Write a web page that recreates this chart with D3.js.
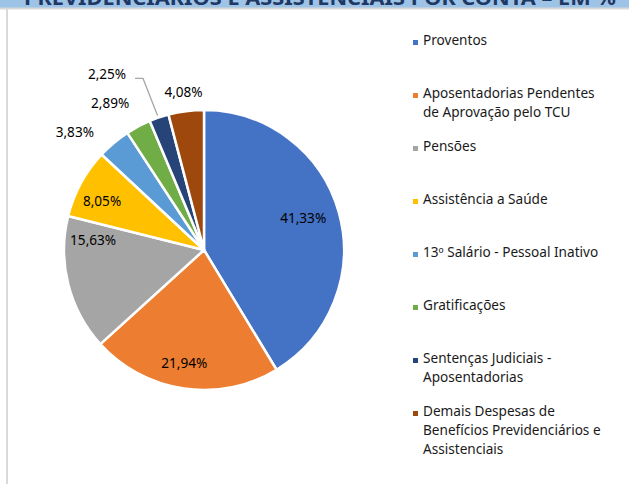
<!DOCTYPE html>
<html>
<head>
<meta charset="utf-8">
<script src="https://cdn.jsdelivr.net/npm/d3@7/dist/d3.min.js"></script>
<style>
  html, body { margin: 0; padding: 0; background: #fff; }
  svg { display: block; }
  text { font-family: "Noto Sans", "DejaVu Sans", sans-serif; }
</style>
</head>
<body>
<svg id="chart" width="629" height="484"></svg>
<script>
// ---- data ----
const categories = [
  "Proventos",
  "Aposentadorias Pendentes de Aprovação pelo TCU",
  "Pensões",
  "Assistência a Saúde",
  "13º Salário - Pessoal Inativo",
  "Gratificações",
  "Sentenças Judiciais - Aposentadorias",
  "Demais Despesas de Benefícios Previdenciários e Assistenciais"
];
const values = [41.33, 21.94, 15.63, 8.05, 3.83, 2.89, 2.25, 4.08];
const legendLines = [
  ["Proventos"],
  ["Aposentadorias Pendentes", "de Aprovação pelo TCU"],
  ["Pensões"],
  ["Assistência a Saúde"],
  ["13º Salário - Pessoal Inativo"],
  ["Gratificações"],
  ["Sentenças Judiciais -", "Aposentadorias"],
  ["Demais Despesas de", "Benefícios Previdenciários e", "Assistenciais"]
];
const colors = ["#4472C4", "#ED7D31", "#A5A5A5", "#FFC000", "#5B9BD5", "#70AD47", "#264478", "#9E480E"];
const title = "PREVIDENCIÁRIOS E ASSISTENCIAIS POR CONTA – EM %";

// label placement tweaks (pixels, relative to the default centroid)
const labelNudge = [[-6, -3], [-4, 4], [-5, -37], [-6, 3], [-21, 10], [-15, 1], [0, 0], [1, 8]];

// ---- drawing ----
const svg = d3.select("#chart");
const W = 629, H = 484;

// cut-off title band
svg.append("rect").attr("x", 0).attr("y", 0).attr("width", W).attr("height", 8).attr("fill", "#9DC3E6");
svg.append("text").attr("x", 24).attr("y", 5)
  .attr("font-size", 20).attr("font-weight", "bold").attr("fill", "#1F3864")
  .attr("textLength", 592).attr("lengthAdjust", "spacingAndGlyphs")
  .text(title);
svg.append("rect").attr("x", 0).attr("y", 7.5).attr("width", W).attr("height", 2).attr("fill", "#D9D9D9");
svg.append("rect").attr("x", 6).attr("y", 8).attr("width", 2).attr("height", H - 8).attr("fill", "#D9D9D9");

const cx = 204, cy = 250, r = 140;
const fmt = v => d3.format(".2f")(v).replace(".", ",") + "%";

const pie = d3.pie().sort(null).value(d => d)(values);
const arc = d3.arc().innerRadius(0).outerRadius(r);
const g = svg.append("g").attr("transform", `translate(${cx},${cy})`);

g.selectAll("path.slice").data(pie).join("path")
  .attr("class", "slice")
  .attr("d", arc)
  .attr("fill", (d, i) => colors[i])
  .attr("stroke", "#fff").attr("stroke-width", 2.5).attr("stroke-linejoin", "round");

// labels
const inArc = d3.arc().innerRadius(r * 0.78).outerRadius(r * 0.78);
const outArc = d3.arc().innerRadius(r * 1.2).outerRadius(r * 1.2);
const edgeArc = d3.arc().innerRadius(r).outerRadius(r);

pie.forEach((d, i) => {
  const pct = (d.endAngle - d.startAngle) / (2 * Math.PI) * 100;
  let p = pct > 5 ? inArc.centroid(d) : outArc.centroid(d);
  p = [p[0] + labelNudge[i][0], p[1] + labelNudge[i][1]];
  // the crowded 2,25% label is pushed up with a leader line
  if (i === 6) {
    const e = edgeArc.centroid(d);
    p = [e[0] - 52, e[1] - 44];
    const lx = p[0] + 28, ly = p[1] + 5;
    const end = [e[0] - 1.5, e[1] - 2];
    g.append("polyline")
      .attr("points", [[lx, ly], [lx + 8, ly], end].map(q => q.join(",")).join(" "))
      .attr("fill", "none").attr("stroke", "#A6A6A6").attr("stroke-width", 1.3);
  }
  g.append("text")
    .attr("x", p[0]).attr("y", p[1])
    .attr("text-anchor", "middle").attr("dominant-baseline", "central")
    .attr("font-size", 13.6).attr("fill", "#000")
    .text(fmt(values[i]));
});

// legend
const lg = svg.append("g");
const legendX = 413, firstY = 41, itemStep = 53, lineH = 19.4;
legendLines.forEach((lines, i) => {
  const y0 = firstY + i * itemStep;
  lg.append("rect").attr("x", legendX).attr("y", y0 - 1).attr("width", 5).attr("height", 5).attr("fill", colors[i]);
  lines.forEach((t, j) => {
    lg.append("text").attr("x", legendX + 10).attr("y", y0 - 2 + j * lineH)
      .attr("dominant-baseline", "central")
      .attr("font-size", 13.6).attr("fill", "#1a1a1a").text(t);
  });
});
</script>
</body>
</html>
